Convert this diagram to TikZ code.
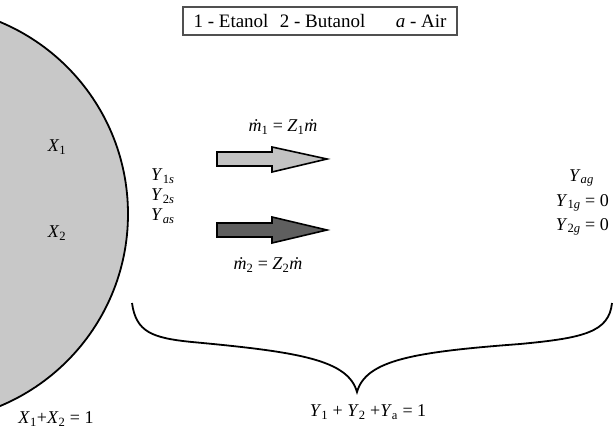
\documentclass[tikz,border=0pt]{standalone}
\usepackage{fontspec}
\setmainfont{Liberation Serif}
\newcommand{\Vr}[2]{\textit{#1}\textsubscript{#2}}
\newcommand{\Vi}[2]{\textit{#1}\textsubscript{\textit{#2}}}
\newcommand{\mdot}{\textit{ṁ}}
\begin{document}
\begin{tikzpicture}[x=1pt,y=-1pt,
  lbl/.style={inner sep=0pt, font=\fontsize{18}{21}\selectfont},
  outl/.style={draw=black, line width=1.6pt, line join=miter}]
\useasboundingbox (0,0) rectangle (613,428);
\begin{scope}
\clip (0,0) rectangle (613,428);
\draw[fill={rgb,255:red,200;green,200;blue,200}, line width=1.8pt] (-80,214) circle (208);
\end{scope}
% legend
\node[draw={rgb,255:red,80;green,80;blue,80}, line width=1.8pt, minimum width=274pt, minimum height=28pt, inner sep=0pt, font=\fontsize{19}{22}\selectfont] (leg) at (320,21)
  {1 - Etanol\hspace{0.6em}2 - Butanol\hspace{1.6em}\textit{a} - Air};
% liquid
\node[lbl] (x1) at (57,147) {\Vr{X}{1}};
\node[lbl] (x2) at (57,233) {\Vr{X}{2}};
\node[lbl, anchor=west] (y1s) at (151,176) {\textit{Y}\textsubscript{1\textit{s}}};
\node[lbl, anchor=west] (y2s) at (151,196) {\textit{Y}\textsubscript{2\textit{s}}};
\node[lbl, anchor=west] (yas) at (151,216) {\Vi{Y}{as}};
% arrows
\draw[outl, fill={rgb,255:red,195;green,195;blue,195}]
  (217,152) -- (272,152) -- (272,147) -- (327,159) -- (272,172) -- (272,166) -- (217,166) -- cycle;
\draw[outl, fill={rgb,255:red,95;green,95;blue,95}]
  (217,223) -- (272,223) -- (272,217) -- (327,230) -- (272,243) -- (272,237) -- (217,237) -- cycle;
\node[lbl] (m1) at (283,127) {\mdot\textsubscript{1} = \Vr{Z}{1}\mdot};
\node[lbl] (m2) at (268,265) {\mdot\textsubscript{2} = \Vr{Z}{2}\mdot};
% gas
\node[lbl, anchor=east] (yag) at (594,178) {\Vi{Y}{ag}};
\node[lbl, anchor=east] (y1g) at (609,203) {\textit{Y}\textsubscript{1\textit{g}} = 0};
\node[lbl, anchor=east] (y2g) at (609,227) {\textit{Y}\textsubscript{2\textit{g}} = 0};
% brace
\coordinate (bl) at (132,303);
\coordinate (bt) at (357,392);
\coordinate (br) at (612,303);
\draw[line width=1.8pt]
  (bl) .. controls (136,332) and (152,338) .. (192,342)
       .. controls (300,352) and (348,360) .. (bt)
       .. controls (366,360) and (414,352) .. (520,344)
       .. controls (584,338) and (609,332) .. (br);
% bottom
\node[lbl] (xsum) at (56,419) {\Vr{X}{1}+\Vr{X}{2} = 1};
\node[lbl] (ysum) at (368,412) {\Vr{Y}{1} + \Vr{Y}{2} +\Vr{Y}{a} = 1};
\end{tikzpicture}
\end{document}
